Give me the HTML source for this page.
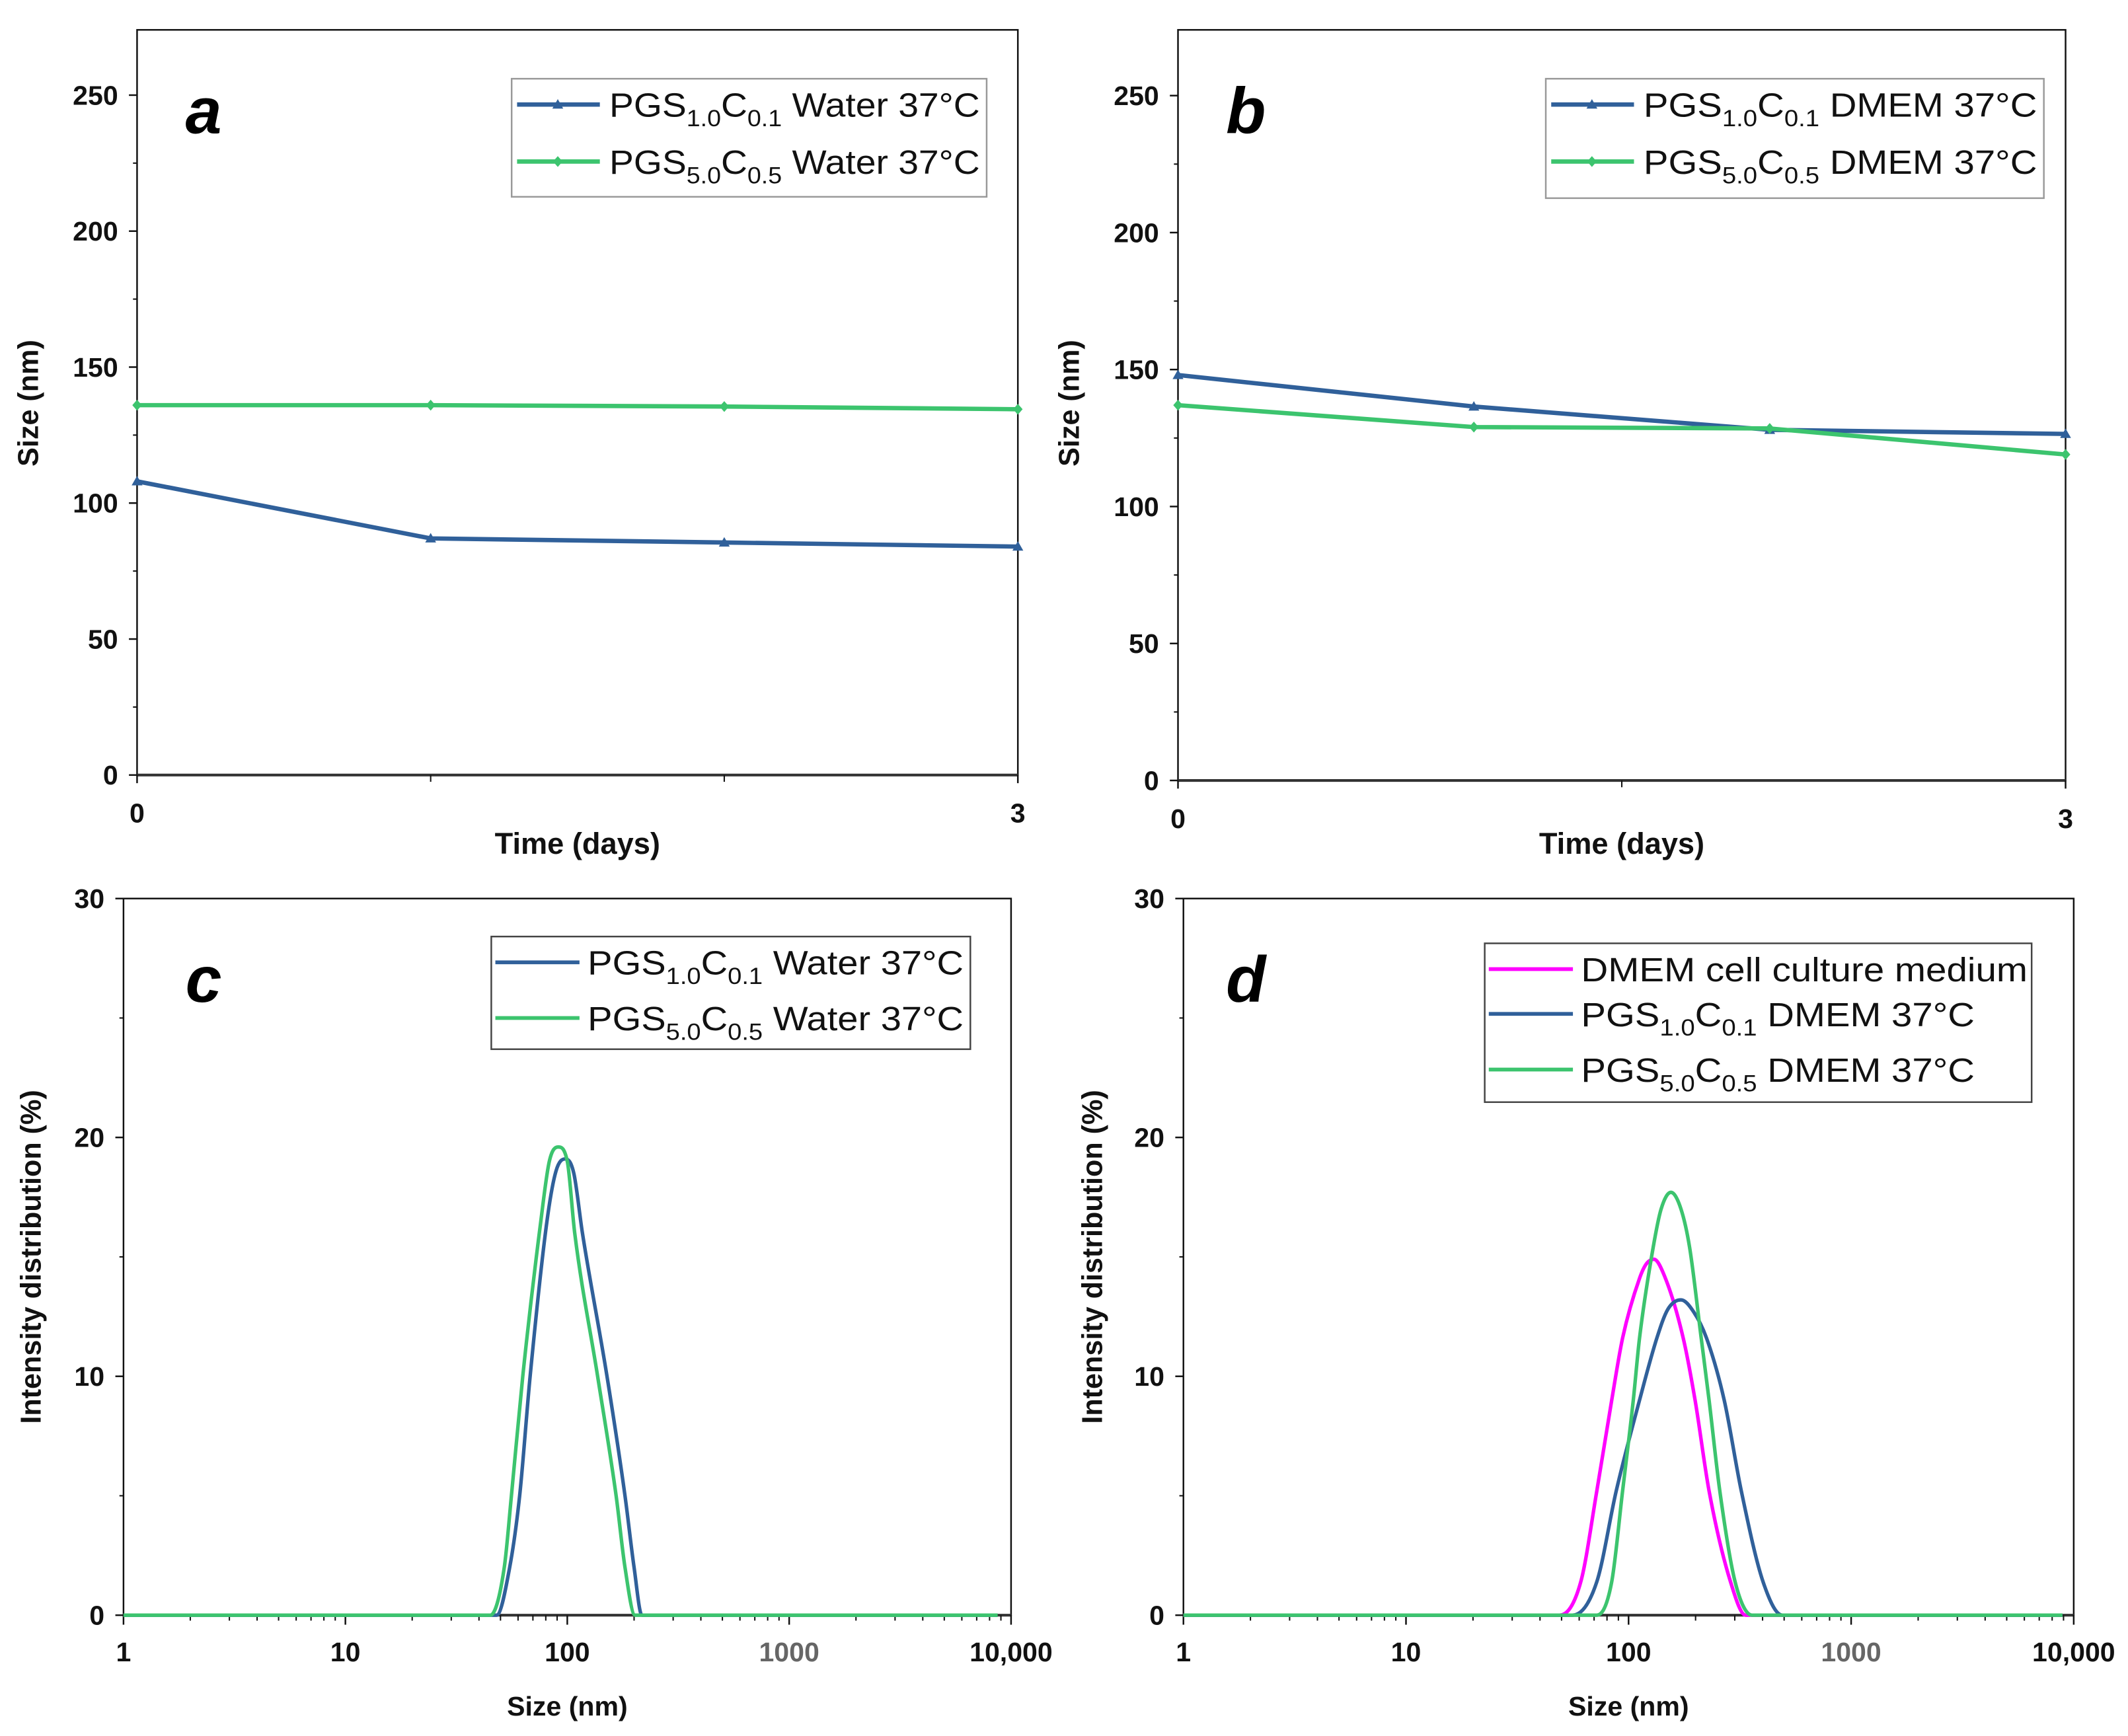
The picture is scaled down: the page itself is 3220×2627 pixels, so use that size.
<!DOCTYPE html>
<html><head><meta charset="utf-8">
<style>
html,body{margin:0;padding:0;background:#fff;}
svg{display:block;font-family:"Liberation Sans",Arial,sans-serif;}
</style></head>
<body>
<svg id="fig" width="3220" height="2627" viewBox="0 0 1568 1279" preserveAspectRatio="none" xmlns="http://www.w3.org/2000/svg"></svg>
<script>
// ---- Panel a/b data (time series) ----
const days = [0, 1, 2, 3];
const aBlue = [108, 87, 85.5, 84];
const aGreen = [136, 136, 135.5, 134.5];
const bBlue = [148, 136.5, 128, 126.5];
const bGreen = [137, 129, 128.5, 119];
const sizeTicks = [0, 50, 100, 150, 200, 250];
// ---- Panel c data (size distributions) ----
const cBlueSize = [1, 48, 55, 61, 68, 81, 89, 98, 107, 117, 151, 182, 200, 217, 8700];
const cBlueVal  = [0, 0, 2, 5, 10, 16.5, 18.6, 19.1, 18.5, 16, 10, 5, 2, 0, 0];
const cGreenSize = [1, 45, 52, 56, 63, 76, 83, 91, 100, 108, 137, 166, 182, 202, 8700];
const cGreenVal  = [0, 0, 2, 5, 10, 16.5, 19.0, 19.6, 19.0, 16, 10, 5, 2, 0, 0];
// ---- Panel d data ----
const dMagSize = [1, 49, 61, 72, 84, 94, 112, 120, 130, 145, 176, 199, 230, 287, 336, 8900];
const dMagVal  = [0, 0, 1.4, 5.2, 9.0, 11.6, 14.1, 14.7, 14.9, 14.2, 11.6, 9.0, 5.2, 1.4, 0, 0];
const dBlueSize = [1, 56, 72, 88, 112, 134, 150, 172, 196, 224, 269, 321, 402, 491, 8900];
const dBlueVal  = [0, 0, 1.4, 5.2, 9.0, 11.6, 12.8, 13.2, 12.7, 11.6, 9.0, 5.2, 1.4, 0, 0];
const dGreenSize = [1, 72, 84, 94, 105, 112, 129, 140, 155, 172, 188, 212, 230, 257, 301, 359, 8900];
const dGreenVal  = [0, 0, 1.4, 5.2, 9.0, 11.6, 15.4, 17.0, 17.7, 17.0, 15.4, 11.6, 9.0, 5.2, 1.4, 0, 0];
const distTicks = [0, 10, 20, 30];
const logTicks = [1, 10, 100, 1000, 10000];
const logTickLabels = ["1", "10", "100", "1000", "10,000"];

const BLUE = "#30609a", GREEN = "#3cc46e", MAG = "#ff00ff";
const NS = "http://www.w3.org/2000/svg";
const svg = document.getElementById("fig");
function mk(tag, attrs, parent) {
  const e = document.createElementNS(NS, tag);
  for (const k in attrs) e.setAttribute(k, attrs[k]);
  (parent || svg).appendChild(e);
  return e;
}
function monoPath(xs, ys) {
  const n = xs.length, d = [], m = new Array(n);
  for (let i = 0; i < n - 1; i++) d.push((ys[i+1]-ys[i])/(xs[i+1]-xs[i]));
  m[0] = d[0]; m[n-1] = d[n-2];
  for (let i = 1; i < n - 1; i++) m[i] = (d[i-1]*d[i] <= 0) ? 0 : (d[i-1]+d[i])/2;
  for (let i = 0; i < n - 1; i++) {
    if (d[i] === 0) { m[i] = 0; m[i+1] = 0; continue; }
    const a = m[i]/d[i], b = m[i+1]/d[i], s = a*a + b*b;
    if (s > 9) { const t = 3/Math.sqrt(s); m[i] = t*a*d[i]; m[i+1] = t*b*d[i]; }
  }
  let p = "M" + xs[0] + "," + ys[0];
  for (let i = 0; i < n - 1; i++) {
    const h = (xs[i+1]-xs[i])/3;
    p += " C" + (xs[i]+h) + "," + (ys[i]+m[i]*h) + " " + (xs[i+1]-h) + "," + (ys[i+1]-m[i+1]*h) + " " + xs[i+1] + "," + ys[i+1];
  }
  return p;
}
function legendText(g, x, y, a, b, c, d2, rest, len) {
  const t = mk("text", {x: x, y: y, "font-size": 25, fill: "#111", textLength: len, lengthAdjust: "spacingAndGlyphs"}, g);
  t.innerHTML = 'PGS<tspan dy="7" font-size="17">' + a + '</tspan><tspan dy="-7">C</tspan><tspan dy="7" font-size="17">' + b + '</tspan><tspan dy="-7"> ' + rest + '</tspan>';
  return t;
}
function frame(g, L, R, T, B) {
  const f = mk("rect", {x: L, y: T, width: R-L, height: B-T, fill: "none", stroke: "#111", "stroke-width": 1.2}, g);
  
  
  const bx = mk("line", {x1: L, x2: R, y1: B, y2: B, stroke: "#333", "stroke-width": 2}, g);
  
  
}
function yAxis(g, L, yf, ticks, minorStep, maxV, title, tx, ty) {
  ticks.forEach(v => {
    mk("line", {x1: L-6, x2: L, y1: yf(v), y2: yf(v), stroke: "#111", "stroke-width": 1.2}, g);
    const t = mk("text", {x: L-14, y: yf(v)+7, "font-size": 20, "font-weight": "bold", "text-anchor": "end", fill: "#111"}, g);
    t.textContent = v;
    
    
  });
  for (let v = minorStep; v < maxV; v += minorStep * 2) {
    mk("line", {x1: L-3, x2: L, y1: yf(v), y2: yf(v), stroke: "#111", "stroke-width": 1}, g);
  }
  const yt = mk("text", {x: tx, y: ty, "font-size": 21, "font-weight": "bold", "text-anchor": "middle", fill: "#111", transform: "rotate(-90 " + tx + " " + ty + ")"}, g);
  yt.textContent = title;
  
  
}
function letter(g, x, y, ch) {
  const t = mk("text", {x: x, y: y, "font-size": 48, "font-weight": "bold", "font-style": "italic", "text-anchor": "middle", fill: "#000"}, g);
  t.textContent = ch;
  
  
}
function marker(g, x, y, kind, color) {
  if (kind === "tri") return mk("polygon", {points: (x) + "," + (y-4) + " " + (x-4) + "," + (y+3) + " " + (x+4) + "," + (y+3), fill: color}, g);
  return mk("polygon", {points: x + "," + (y-4) + " " + (x+3.5) + "," + y + " " + x + "," + (y+4) + " " + (x-3.5) + "," + y, fill: color}, g);
}

// ---------- time panels ----------
function timePanel(name, L, R, T, B, blue, green, midTicks, let, lx, legBox, medium, ytx) {
  const g = mk("g", {});
  
  
  const ymax = 274;
  const xf = v => L + (R-L) * v / 3;
  const yf = v => B - (B-T) * v / ymax;
  frame(g, L, R, T, B);
  yAxis(g, L, yf, sizeTicks, 25, ymax, "Size (nm)", ytx, 297);
  midTicks.forEach(v => mk("line", {x1: xf(v), x2: xf(v), y1: B, y2: B+5, stroke: "#111", "stroke-width": 1}, g));
  [0, 3].forEach(v => {
    mk("line", {x1: xf(v), x2: xf(v), y1: B, y2: B+6, stroke: "#111", "stroke-width": 1.2}, g);
    const t = mk("text", {x: xf(v), y: B+35, "font-size": 20, "font-weight": "bold", "text-anchor": "middle", fill: "#111"}, g);
    t.textContent = v;
    
    
  });
  const xt = mk("text", {x: (L+R)/2, y: 629, "font-size": 22, "font-weight": "bold", "text-anchor": "middle", fill: "#111"}, g);
  xt.textContent = "Time (days)";
  
  
  [[blue, BLUE, "tri", "series-pgs10"], [green, GREEN, "dia", "series-pgs50"]].forEach(s => {
    const pts = days.map((d, i) => xf(d) + "," + yf(s[0][i])).join(" ");
    const pl = mk("polyline", {points: pts, fill: "none", stroke: s[1], "stroke-width": 3.2, "stroke-linejoin": "round"}, g);
    
    
    days.forEach((d, i) => {
      const m = marker(g, xf(d), yf(s[0][i]), s[2], s[1]);
      
      
    });
  });
  letter(g, lx, 98, let);
  const lg = mk("g", {}, g);
  
  
  const [bx, by, bw, bh] = legBox;
  mk("rect", {x: bx, y: by, width: bw, height: bh, fill: "#fff", stroke: "#999", "stroke-width": 1.2}, lg);
  [[BLUE, "tri", "1.0", "0.1", 19], [GREEN, "dia", "5.0", "0.5", 61]].forEach(e => {
    const ey = by + e[4];
    const ln = mk("line", {x1: bx+4, x2: bx+65, y1: ey, y2: ey, stroke: e[0], "stroke-width": 3.2}, lg);
    
    
    marker(lg, bx+34, ey, e[1], e[0]);
    const t = legendText(lg, bx+72, ey+9, e[2], e[3], null, null, medium + " 37°C", bw - 77);
    
    
  });
}
timePanel("panel-a", 101, 750, 22, 571, aBlue, aGreen, [1, 2], "a", 150, [377, 58, 350, 87], "Water", 28);
timePanel("panel-b", 868, 1522, 22, 575, bBlue, bGreen, [1.5], "b", 918, [1139, 58, 367, 88], "DMEM", 795);

// ---------- distribution panels ----------
function distPanel(name, L, R, T, B, series, let, lx, legBox, entries, ytx) {
  const g = mk("g", {});
  
  
  const ymax = 30;
  const xf = v => L + (R-L) * Math.log10(v) / 4;
  const yf = v => B - (B-T) * v / ymax;
  frame(g, L, R, T, B);
  yAxis(g, L, yf, distTicks, 5, ymax, "Intensity distribution (%)", ytx, 926);
  logTicks.forEach((v, i) => {
    mk("line", {x1: xf(v), x2: xf(v), y1: B, y2: B+7, stroke: "#111", "stroke-width": 1.2}, g);
    const t = mk("text", {x: xf(v), y: B+34, "font-size": 20, "font-weight": "bold", "text-anchor": "middle", fill: i === 3 ? "#666" : "#111"}, g);
    t.textContent = logTickLabels[i];
    
    
    if (i < 4) for (let k = 2; k < 10; k++) mk("line", {x1: xf(v*k), x2: xf(v*k), y1: B, y2: B+4, stroke: "#111", "stroke-width": 1}, g);
  });
  const xt = mk("text", {x: (L+R)/2, y: B+74, "font-size": 20, "font-weight": "bold", "text-anchor": "middle", fill: "#111"}, g);
  xt.textContent = "Size (nm)";
  
  
  series.forEach(s => {
    const p = mk("path", {d: monoPath(s[0].map(xf), s[1].map(yf)), fill: "none", stroke: s[2], "stroke-width": 2.6}, g);
    
    
  });
  letter(g, lx, 738, let);
  const lg = mk("g", {}, g);
  
  
  const [bx, by, bw, bh] = legBox;
  mk("rect", {x: bx, y: by, width: bw, height: bh, fill: "#fff", stroke: "#444", "stroke-width": 1.2}, lg);
  entries.forEach(e => {
    const ey = by + e[1];
    const ln = mk("line", {x1: bx+3, x2: bx+65, y1: ey, y2: ey, stroke: e[0], "stroke-width": 2.8}, lg);
    
    
    let t;
    if (e[2] === null) {
      t = mk("text", {x: bx+71, y: ey+9, "font-size": 25, fill: "#111", textLength: bw-74, lengthAdjust: "spacingAndGlyphs"}, lg);
      t.textContent = e[5];
    } else {
      t = legendText(lg, bx+71, ey+9, e[2], e[3], null, null, e[5], e[4]);
    }
    
    
  });
}
distPanel("panel-c", 91, 745, 662, 1190,
  [[cBlueSize, cBlueVal, BLUE, "series-pgs10-water"], [cGreenSize, cGreenVal, GREEN, "series-pgs50-water"]],
  "c", 150, [362, 690, 353, 83],
  [[BLUE, 19, "1.0", "0.1", 277, "Water 37°C"], [GREEN, 60, "5.0", "0.5", 277, "Water 37°C"]], 30);
distPanel("panel-d", 872, 1528, 662, 1190,
  [[dMagSize, dMagVal, MAG, "series-dmem-medium"], [dBlueSize, dBlueVal, BLUE, "series-pgs10-dmem"], [dGreenSize, dGreenVal, GREEN, "series-pgs50-dmem"]],
  "d", 918, [1094, 695, 403, 117],
  [[MAG, 19, null, null, 0, "DMEM cell culture medium"], [BLUE, 52, "1.0", "0.1", 290, "DMEM 37°C"], [GREEN, 93, "5.0", "0.5", 290, "DMEM 37°C"]], 812);
</script>
</body></html>
